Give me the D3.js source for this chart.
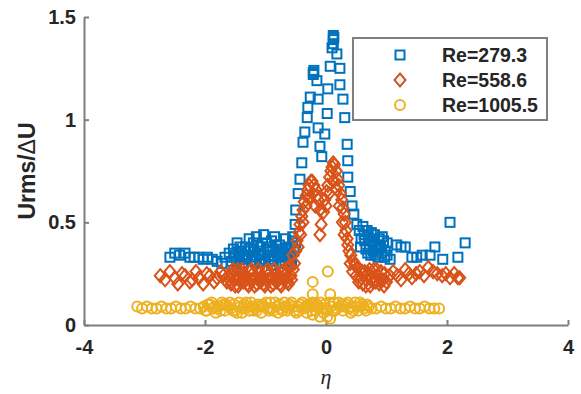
<!DOCTYPE html>
<html>
<head>
<meta charset="utf-8">
<script src="https://cdn.jsdelivr.net/npm/d3@7"></script>
<style>
  body { margin: 0; background: #fff; }
  text { font-family: "Liberation Sans", Arial, sans-serif; font-weight: bold; fill: #262626; }
</style>
</head>
<body>
<div id="chart"></div>
<script>
const xTicks = [-4, -2, 0, 2, 4]
const yTicks = [0, 0.5, 1, 1.5]
const seriesNames = ["Re=279.3", "Re=558.6", "Re=1005.5"]

// [eta, Urms/dU]
const re279 = [
  [-2.58,0.33],[-2.50,0.35],[-2.42,0.34],[-2.33,0.35],[-2.25,0.33],[-2.18,0.33],[-2.10,0.33],[-2.03,0.32],
  [-1.96,0.33],[-1.88,0.32],[-1.80,0.31],[-1.72,0.30],[-1.67,0.33],[-1.60,0.35],
  [-1.56,0.31],[-1.53,0.37],[-1.50,0.34],[-1.47,0.40],[-1.43,0.32],[-1.40,0.36],[-1.37,0.30],[-1.33,0.38],
  [-1.30,0.34],[-1.27,0.42],[-1.23,0.31],[-1.20,0.36],[-1.17,0.33],[-1.13,0.39],[-1.10,0.30],[-1.07,0.35],
  [-1.03,0.44],[-1.00,0.32],[-0.97,0.37],[-0.93,0.34],[-0.90,0.41],[-0.87,0.31],[-0.83,0.36],[-0.80,0.33],
  [-0.77,0.39],[-0.73,0.30],[-0.70,0.35],[-0.67,0.42],[-0.63,0.33],[-0.60,0.38],[-0.57,0.31],[-0.53,0.36],
  [-0.50,0.40],[-1.45,0.35],[-1.35,0.33],[-1.25,0.37],[-1.15,0.43],[-1.05,0.31],[-0.95,0.38],[-0.85,0.43],
  [-0.75,0.34],[-0.65,0.37],[-0.55,0.43],[-1.20,0.40],[-0.90,0.29],[-0.60,0.30],
  [-1.52,0.33],[-1.42,0.38],[-1.32,0.32],[-1.22,0.34],[-1.12,0.36],[-1.02,0.34],[-0.92,0.32],[-0.82,0.39],
  [-0.72,0.37],[-0.62,0.35],[-0.58,0.33],[-0.68,0.31],[-0.78,0.35],[-0.88,0.36],[-0.98,0.40],[-1.08,0.38],
  [-1.18,0.31],[-1.28,0.36],[-1.38,0.34],[-1.48,0.31],
  [-0.55,0.41],[-0.51,0.49],[-0.50,0.56],[-0.46,0.64],[-0.43,0.71],[-0.40,0.79],[-0.38,0.89],[-0.35,0.94],
  [-0.31,1.01],[-0.30,1.06],[-0.26,1.11],[-0.21,1.23],[-0.21,1.22],[-0.20,1.24],[-0.15,1.19],[-0.13,1.10],
  [-0.13,0.96],[-0.10,0.87],[-0.07,0.82],[-0.02,0.93],[0.02,1.03],[0.03,1.15],[0.07,1.26],
  [0.10,1.35],[0.12,1.37],[0.12,1.41],[0.12,1.39],[0.13,1.40],[0.18,1.32],
  [0.23,1.25],[0.23,1.17],[0.28,1.10],[0.31,1.01],[0.35,0.88],[0.36,0.80],[0.36,0.72],[0.40,0.65],
  [0.43,0.58],[0.46,0.54],[0.51,0.49],
  [0.55,0.46],[0.58,0.42],[0.61,0.48],[0.64,0.41],[0.66,0.37],[0.68,0.46],[0.70,0.43],[0.72,0.38],
  [0.74,0.34],[0.76,0.41],[0.78,0.36],[0.80,0.44],[0.82,0.39],[0.84,0.37],[0.86,0.33],[0.88,0.42],
  [0.90,0.38],[0.92,0.35],[0.95,0.41],[0.98,0.36],[1.01,0.40],[1.01,0.34],[1.06,0.32],
  [0.57,0.38],[0.63,0.44],[0.69,0.35],[0.75,0.45],[0.81,0.34],[0.87,0.39],[0.93,0.43],[0.97,0.33],
  [1.17,0.39],[1.24,0.38],[1.31,0.38],[1.42,0.33],[1.50,0.33],[1.59,0.34],[1.72,0.34],[1.80,0.38],
  [1.93,0.32],[2.05,0.50],[2.18,0.33],[2.30,0.40]
]

const re558 = [
  [-2.74,0.24],[-2.66,0.22],[-2.58,0.26],[-2.50,0.23],[-2.45,0.20],[-2.38,0.25],[-2.33,0.24],[-2.25,0.21],
  [-2.21,0.22],[-2.15,0.26],[-2.10,0.23],[-2.03,0.20],[-1.97,0.25],[-1.92,0.24],[-1.85,0.21],[-1.80,0.23],
  [-1.74,0.26],[-1.70,0.24],[-1.64,0.21],
  [-1.60,0.24],[-1.57,0.20],[-1.54,0.27],[-1.51,0.22],[-1.48,0.25],[-1.45,0.19],[-1.42,0.23],[-1.39,0.27],
  [-1.36,0.21],[-1.33,0.24],[-1.30,0.20],[-1.27,0.26],[-1.24,0.22],[-1.21,0.25],[-1.18,0.19],[-1.15,0.23],
  [-1.12,0.27],[-1.09,0.21],[-1.06,0.24],[-1.03,0.20],[-1.00,0.26],[-0.97,0.22],[-0.94,0.25],[-0.91,0.19],
  [-0.88,0.23],[-0.85,0.27],[-0.82,0.21],[-0.79,0.24],[-0.76,0.20],[-0.73,0.26],[-0.70,0.22],[-0.67,0.25],
  [-0.64,0.21],[-0.61,0.28],[-0.58,0.24],
  [-1.59,0.22],[-1.55,0.25],[-1.50,0.19],[-1.46,0.27],[-1.41,0.21],[-1.37,0.25],[-1.32,0.22],[-1.28,0.19],
  [-1.23,0.27],[-1.19,0.23],[-1.14,0.20],[-1.10,0.25],[-1.05,0.22],[-1.01,0.19],[-0.96,0.27],[-0.92,0.23],
  [-0.87,0.20],[-0.83,0.25],[-0.78,0.22],[-0.74,0.19],[-0.69,0.27],[-0.65,0.23],[-0.62,0.20],[-0.57,0.22],
  [-0.68,0.24],[-0.60,0.29],[-0.55,0.34],[-0.52,0.30],[-0.48,0.41],[-0.50,0.36],[-0.45,0.45],[-0.43,0.49],
  [-0.40,0.53],[-0.38,0.56],[-0.36,0.60],[-0.33,0.63],[-0.30,0.66],[-0.28,0.68],[-0.25,0.70],[-0.23,0.70],
  [-0.20,0.68],[-0.17,0.66],[-0.15,0.63],[-0.13,0.61],[-0.10,0.56],[-0.08,0.49],[-0.10,0.44],[-0.33,0.58],
  [-0.28,0.62],[-0.22,0.64],[-0.18,0.58],[-0.42,0.44],[-0.38,0.50],[-0.54,0.27],[-0.46,0.38],
  [-0.04,0.55],[-0.02,0.61],[0.01,0.65],[0.03,0.68],[0.06,0.72],[0.08,0.75],[0.10,0.77],[0.12,0.79],
  [0.14,0.78],[0.17,0.75],[0.19,0.71],[0.21,0.68],[0.24,0.64],[0.26,0.61],[0.28,0.57],[0.30,0.54],
  [0.32,0.50],[0.33,0.46],[0.35,0.42],[0.36,0.39],[0.38,0.36],[0.41,0.34],[0.45,0.31],[0.48,0.29],
  [0.52,0.28],[0.56,0.27],[0.05,0.64],[0.12,0.70],[0.18,0.66],[0.22,0.58],[0.27,0.50],[0.30,0.44],[0.00,0.58],
  [0.40,0.30],[0.44,0.26],[0.50,0.24],
  [0.58,0.23],[0.61,0.20],[0.64,0.26],[0.67,0.22],[0.70,0.25],[0.73,0.19],[0.76,0.23],[0.79,0.27],
  [0.82,0.21],[0.85,0.24],[0.88,0.20],[0.91,0.26],[0.94,0.22],[0.97,0.25],[1.00,0.21],
  [0.54,0.21],[0.60,0.26],[0.66,0.19],[0.72,0.27],[0.78,0.21],[0.84,0.27],[0.90,0.22],[0.96,0.19],
  [1.05,0.24],[1.11,0.26],[1.18,0.24],[1.24,0.22],[1.31,0.27],[1.37,0.25],[1.42,0.23],[1.49,0.25],
  [1.55,0.26],[1.62,0.24],[1.69,0.28],[1.77,0.26],[1.84,0.25],[1.92,0.24],[1.98,0.25],[2.05,0.23],
  [2.12,0.25],[2.18,0.23],[2.21,0.23]
]

const re1005 = [
  [-3.12,0.09],[-3.04,0.08],[-2.96,0.09],[-2.88,0.08],[-2.80,0.08],[-2.72,0.09],[-2.64,0.08],[-2.56,0.08],
  [-2.48,0.09],[-2.40,0.08],[-2.32,0.08],[-2.24,0.09],[-2.16,0.08],[-2.08,0.08],
  [-2.02,0.09],[-1.97,0.07],[-1.92,0.10],[-1.87,0.08],[-1.82,0.06],[-1.77,0.09],[-1.72,0.11],[-1.67,0.07],
  [-1.62,0.09],[-1.57,0.08],[-1.52,0.10],[-1.47,0.06],[-1.42,0.09],[-1.37,0.08],[-1.32,0.11],[-1.27,0.07],
  [-1.22,0.09],[-1.17,0.08],[-1.12,0.10],[-1.07,0.06],[-1.02,0.09],[-0.97,0.08],[-0.92,0.11],[-0.87,0.07],
  [-0.82,0.09],[-0.77,0.10],[-0.72,0.07],[-0.67,0.09],[-0.62,0.08],[-0.57,0.11],[-0.52,0.07],[-0.47,0.09],
  [-0.42,0.10],[-0.37,0.08],[-0.32,0.06],[-0.27,0.09],[-0.22,0.11],[-0.17,0.07],[-0.12,0.09],[-0.07,0.08],
  [-0.02,0.10],[0.03,0.07],[0.08,0.09],[0.13,0.11],[0.18,0.08],[0.23,0.09],[0.28,0.07],[0.33,0.10],
  [0.38,0.08],[0.43,0.09],[0.48,0.11],[0.53,0.07],[0.58,0.09],[0.63,0.08],[0.68,0.10],
  [-1.95,0.10],[-1.80,0.08],[-1.65,0.10],[-1.50,0.07],[-1.35,0.10],[-1.20,0.07],[-1.05,0.10],[-0.90,0.08],
  [-0.75,0.08],[-0.60,0.10],[-0.45,0.07],[-0.30,0.10],[-0.15,0.10],[0.00,0.08],[0.15,0.07],[0.30,0.09],
  [0.45,0.07],[0.60,0.10],
  [-1.99,0.07],[-1.89,0.11],[-1.84,0.09],[-1.74,0.07],[-1.69,0.10],[-1.59,0.11],[-1.54,0.07],[-1.44,0.11],
  [-1.39,0.06],[-1.29,0.09],[-1.24,0.11],[-1.14,0.07],[-1.09,0.09],[-0.99,0.11],[-0.94,0.07],[-0.84,0.11],
  [-0.79,0.06],[-0.69,0.11],[-0.64,0.07],[-0.54,0.09],[-0.49,0.06],[-0.39,0.11],[-0.34,0.09],[-0.24,0.07],
  [-0.19,0.09],[-0.09,0.11],[-0.04,0.06],[0.06,0.11],[0.11,0.07],[0.21,0.11],[0.26,0.10],[0.36,0.11],
  [0.41,0.06],[0.51,0.09],[0.56,0.11],[0.66,0.07],[0.71,0.09],
  [-0.22,0.21],[-0.22,0.15],[-0.22,0.05],[0.03,0.26],[0.07,0.15],[0.07,0.03],[-0.10,0.04],[0.02,0.04],
  [0.75,0.08],[0.83,0.08],[0.91,0.09],[0.99,0.08],[1.07,0.08],[1.15,0.09],[1.23,0.08],[1.31,0.08],
  [1.39,0.09],[1.47,0.08],[1.55,0.08],[1.63,0.09],[1.71,0.08],[1.79,0.08],[1.87,0.08]
]

const width = 581
const height = 394
const margin = {top: 17, right: 13, bottom: 69, left: 84}

const x = d3.scaleLinear().domain([-4, 4]).range([margin.left, width - margin.right])
const y = d3.scaleLinear().domain([0, 1.5]).range([height - margin.bottom, margin.top])

const svg = d3.select("#chart")
  .append("svg")
    .attr("width", width)
    .attr("height", height)

const markers = [
  {name: seriesNames[0], data: re279, color: "#0072BD", shape: "square"},
  {name: seriesNames[1], data: re558, color: "#D95319", shape: "diamond"},
  {name: seriesNames[2], data: re1005, color: "#EDB120", shape: "circle"}
]

const drawMarker = (g, shape, color) => {
  let m
  if (shape === "square") {
    m = g.append("rect").attr("x", -4.5).attr("y", -4.5).attr("width", 9).attr("height", 9)
  } else if (shape === "diamond") {
    m = g.append("path").attr("d", "M0,-6.5L5.5,0L0,6.5L-5.5,0Z")
  } else {
    m = g.append("circle").attr("r", 5)
  }
  m.attr("fill", "none").attr("stroke", color).attr("stroke-width", 2)
}

// axes
const xAxis = svg.append("g")
  .attr("transform", "translate(0," + y(0) + ")")
  .call(d3.axisBottom(x).tickValues(xTicks).tickSizeInner(-5).tickSizeOuter(0).tickPadding(15).tickFormat(d => String(d)))
const yAxis = svg.append("g")
  .attr("transform", "translate(" + x(-4) + ",0)")
  .call(d3.axisLeft(y).tickValues(yTicks).tickSizeInner(-5).tickSizeOuter(0).tickPadding(8).tickFormat(d => String(d)))

svg.selectAll(".domain, .tick line").attr("stroke", "#7f7f7f").attr("stroke-width", 2)
svg.selectAll(".tick text").attr("font-size", 20).attr("font-family", null).attr("fill", "#262626")

// series
markers.forEach(s => {
  const g = svg.append("g")
  s.data.forEach(d => {
    const p = g.append("g").attr("transform", "translate(" + x(d[0]) + "," + y(d[1]) + ")")
    drawMarker(p, s.shape, s.color)
  })
})

// axis labels
const yLabel = svg.append("text")
  .attr("transform", "translate(35,171) rotate(-90)")
  .attr("text-anchor", "middle")
  .attr("font-size", 23)
yLabel.append("tspan").text("Urms/")
yLabel.append("tspan").attr("font-weight", "normal").text("\u0394")
yLabel.append("tspan").text("U")

svg.append("text")
  .attr("x", x(0))
  .attr("y", 384)
  .attr("text-anchor", "middle")
  .attr("font-size", 22)
  .style("font-family", "'Liberation Serif', serif")
  .style("font-style", "italic")
  .style("font-weight", "normal")
  .text("\u03B7")

// legend
const legend = svg.append("g")
legend.append("rect")
  .attr("x", 353).attr("y", 38).attr("width", 194).attr("height", 82)
  .attr("fill", "#fff").attr("stroke", "#7f7f7f").attr("stroke-width", 2)
markers.forEach((s, i) => {
  const row = legend.append("g").attr("transform", "translate(0," + (55 + i * 25) + ")")
  drawMarker(row.append("g").attr("transform", "translate(400,0)"), s.shape, s.color)
  row.append("text")
    .attr("x", 442).attr("dy", "0.35em")
    .attr("font-size", 19.5)
    .text(s.name)
})
</script>
</body>
</html>
